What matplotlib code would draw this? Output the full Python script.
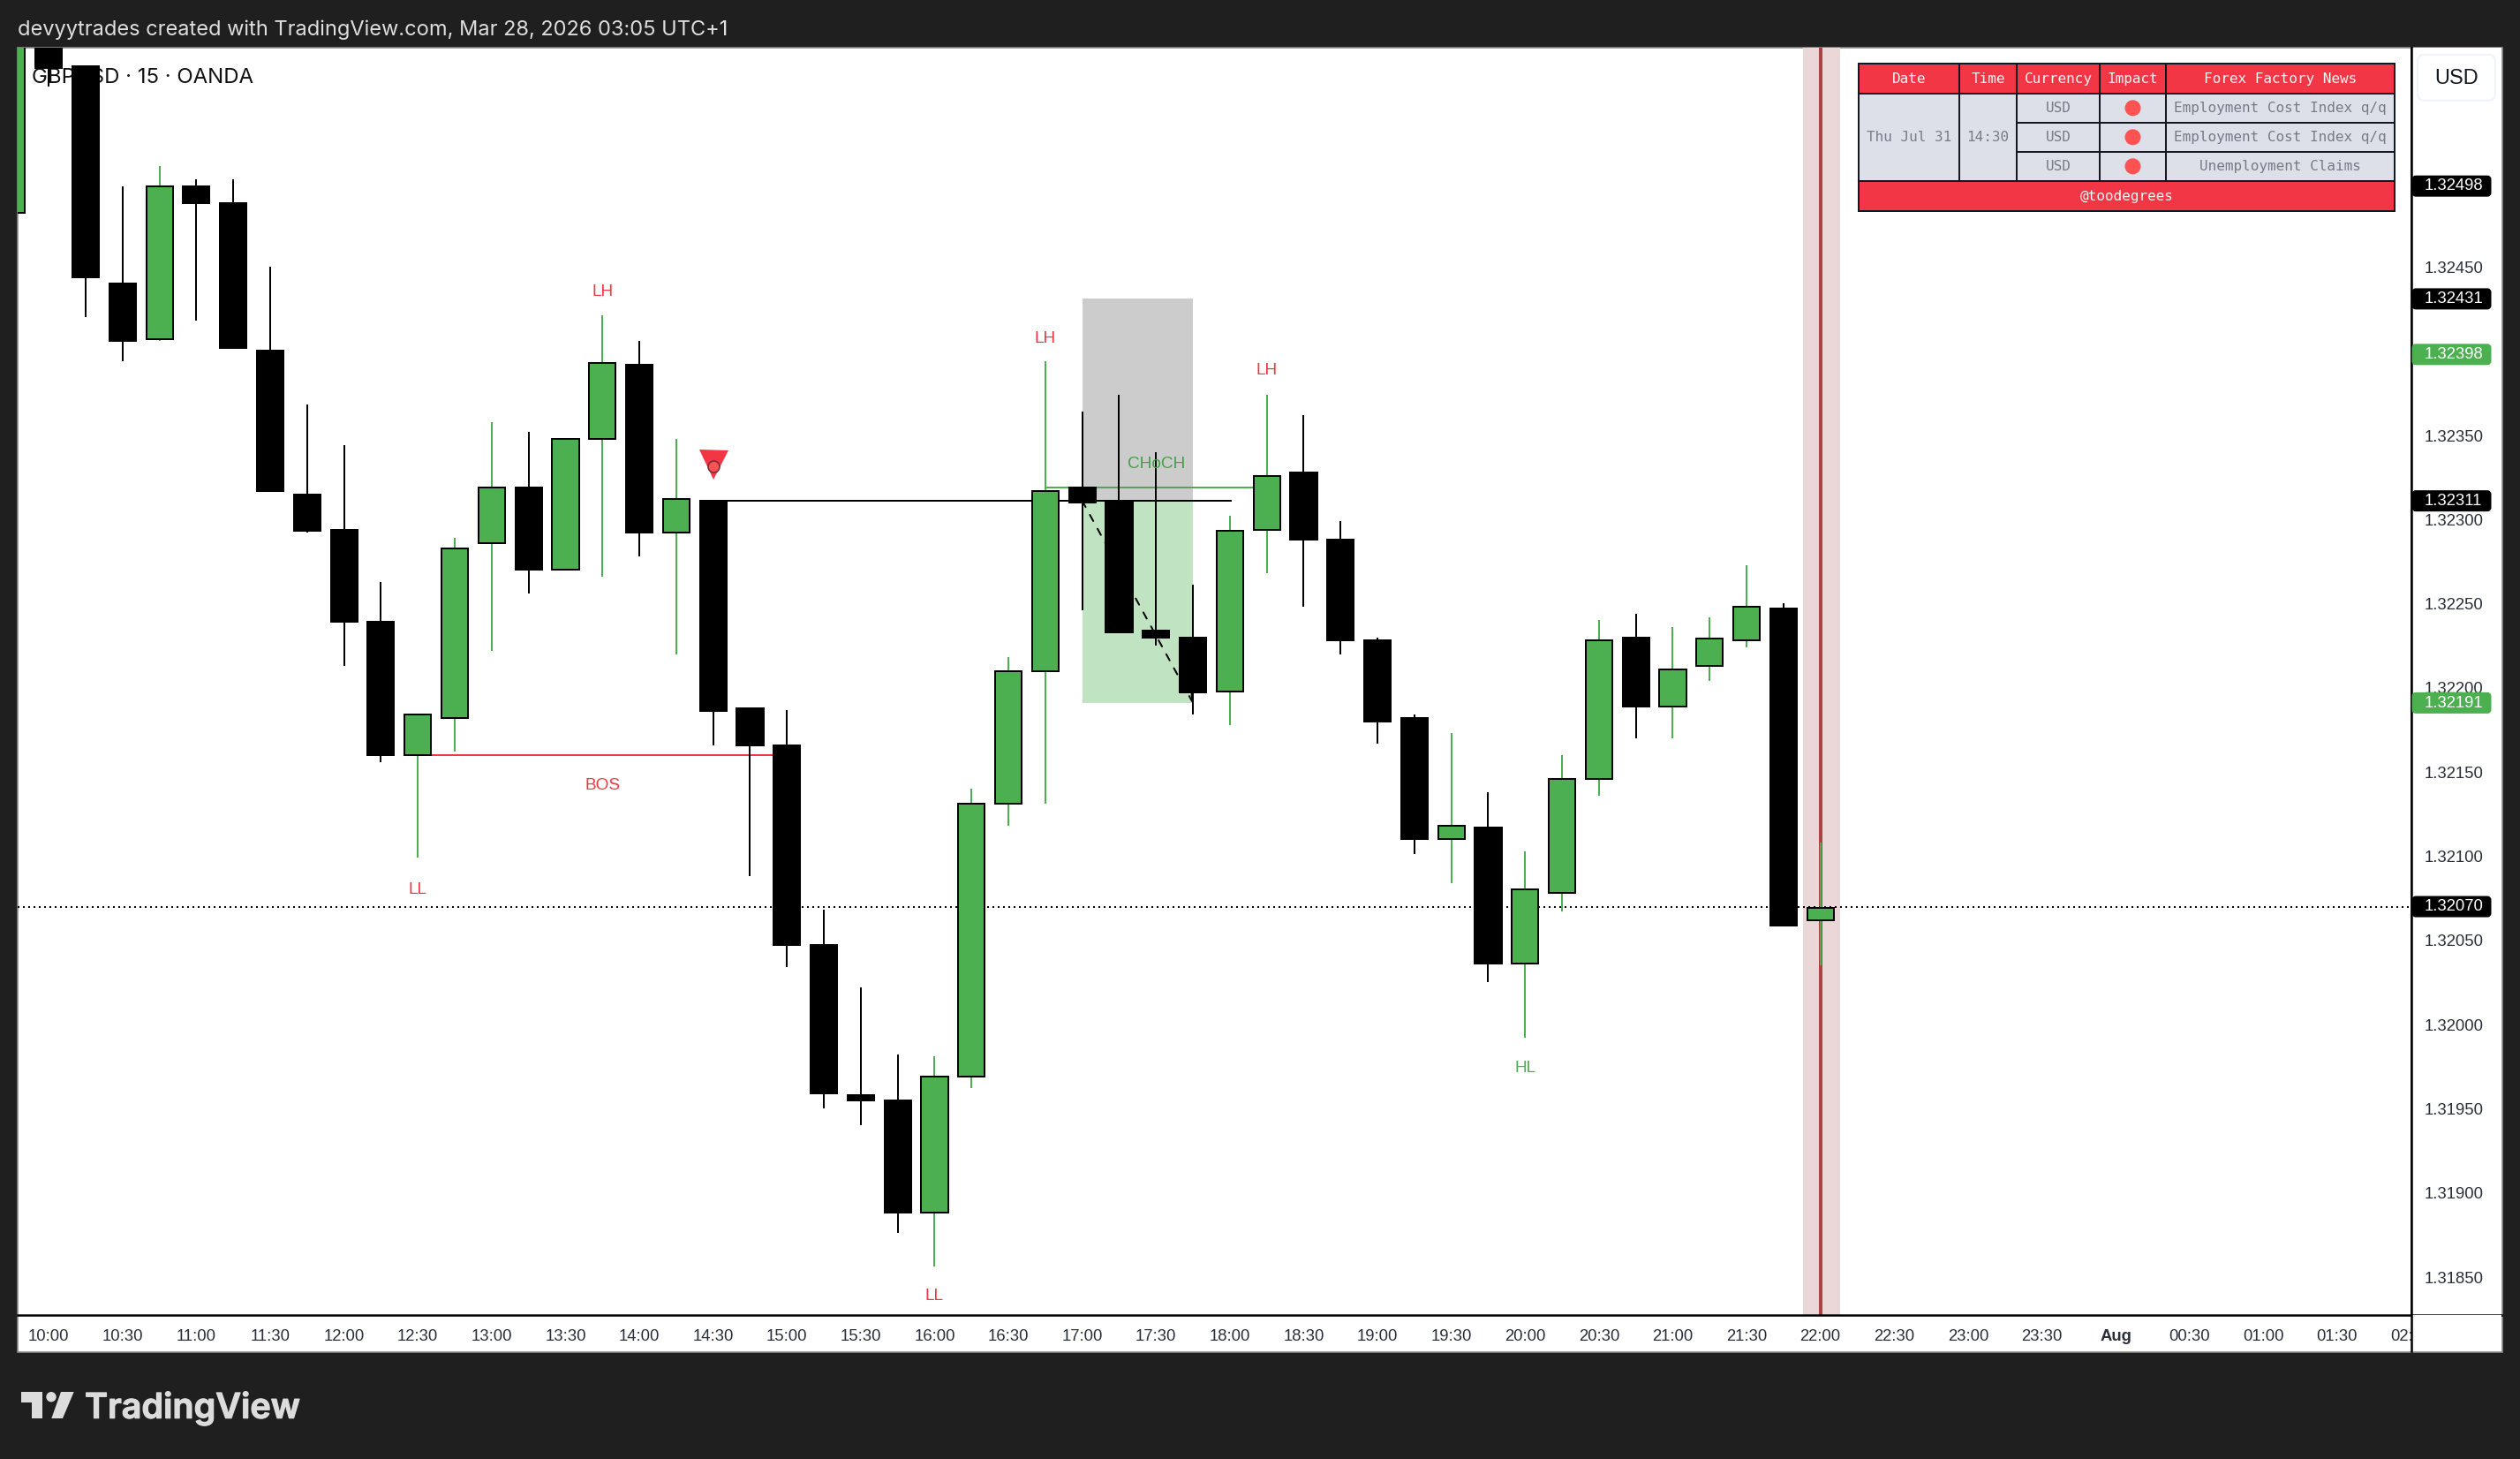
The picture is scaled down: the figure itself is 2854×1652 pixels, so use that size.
import matplotlib
matplotlib.use("Agg")
import matplotlib.pyplot as plt
from matplotlib.patches import Rectangle, FancyBboxPatch, Polygon, Circle
import matplotlib.patheffects as pe
import numpy as np

W, H = 2854, 1652
DPI = 100
BG = "#1f1f1f"
GREEN = "#4caf50"
RED = "#f23645"
SANS = "Liberation Sans"


def pt(px):
    return px * 72.0 / DPI


# candles, prices in 1e-5 units above 1.0
opens = [132482, 132625, 132569, 132440, 132407, 132498, 132488, 132400, 132315, 132294,
         132239, 132160, 132182, 132286, 132319, 132270, 132348, 132392, 132292, 132311,
         132188, 132166, 132047, 131958, 131955, 131888, 131969, 132131, 132210, 132319,
         132311, 132234, 132230, 132198, 132294, 132328, 132288, 132228, 132182, 132110,
         132117, 132036, 132078, 132146, 132230, 132189, 132213, 132228, 132247, 132062]
highs = [132650, 132640, 132569, 132498, 132510, 132502, 132502, 132450, 132368, 132344,
         132263, 132184, 132289, 132358, 132352, 132348, 132421, 132406, 132348, 132311,
         132188, 132187, 132068, 132022, 131982, 131981, 132140, 132218, 132394, 132364,
         132374, 132340, 132261, 132302, 132374, 132362, 132299, 132230, 132184, 132173,
         132138, 132103, 132160, 132240, 132244, 132236, 132242, 132273, 132250, 132108]
lows = [132482, 132557, 132420, 132394, 132406, 132418, 132402, 132317, 132292, 132213,
        132156, 132099, 132162, 132222, 132256, 132270, 132266, 132278, 132220, 132166,
        132088, 132034, 131950, 131940, 131876, 131856, 131962, 132118, 132131, 132246,
        132233, 132225, 132184, 132178, 132268, 132248, 132220, 132167, 132101, 132084,
        132025, 131992, 132067, 132136, 132170, 132170, 132204, 132224, 132058, 132035]
closes = [132640, 132568, 132444, 132406, 132498, 132488, 132402, 132317, 132293, 132239,
          132160, 132184, 132283, 132319, 132270, 132348, 132393, 132292, 132312, 132186,
          132166, 132047, 131959, 131955, 131888, 131969, 132131, 132210, 132317, 132310,
          132233, 132230, 132197, 132293, 132326, 132288, 132228, 132180, 132110, 132118,
          132036, 132080, 132146, 132228, 132189, 132211, 132229, 132248, 132059, 132069]
first_idx = -1

time_ticks = list(range(0, 66, 2))
time_labels = ["10:00", "10:30", "11:00", "11:30", "12:00", "12:30", "13:00", "13:30", "14:00", "14:30",
               "15:00", "15:30", "16:00", "16:30", "17:00", "17:30", "18:00", "18:30", "19:00", "19:30",
               "20:00", "20:30", "21:00", "21:30", "22:00", "22:30", "23:00", "23:30", "Aug", "00:30",
               "01:00", "01:30", "02:00"]
price_ticks = [132500, 132450, 132400, 132350, 132300, 132250, 132200, 132150, 132100, 132050,
               132000, 131950, 131900, 131850]
price_tags = [132498, 132431, 132398, 132311, 132191, 132070]
tag_colors = ["black", "black", GREEN, "black", GREEN, "black"]

swing_labels = ["LH", "LH", "LH", "LL", "LL", "HL", "BOS", "CHoCH"]
swing_x = [15, 27, 33, 10, 24, 40, 15, 30]
swing_y = [132435.5, 132407.5, 132388.5, 132080, 131839, 131974, 132142, 132333]
swing_colors = [RED, RED, RED, RED, RED, GREEN, RED, "#43a047"]

table_head = ["Date", "Time", "Currency", "Impact", "Forex Factory News"]
table_news = ["Employment Cost Index q/q", "Employment Cost Index q/q", "Unemployment Claims"]

fig = plt.figure(figsize=(W / DPI, (H + 0.2) / DPI), dpi=DPI, facecolor=BG)


def px_axes(x0, y0, x1, y1, **kw):
    return fig.add_axes([x0 / W, 1 - y1 / H, (x1 - x0) / W, (y1 - y0) / H], **kw)


# full frame overlay in pixel coordinates, for the window chrome
bgax = px_axes(0, 0, W, H, zorder=0)
bgax.set_xlim(0, W)
bgax.set_ylim(H, 0)
bgax.axis("off")
bgax.add_patch(Rectangle((20, 54), 2814, 1477, fc="white", ec="#8a8a8a", lw=1.2))
bgax.text(20, 34, "devyytrades created with TradingView.com, Mar 28, 2026 03:05 UTC+1",
          color="#dedede", fontsize=pt(23.6), family="Inter", va="center", ha="left")

# logo
lc = "#dcdcdc"
bgax.add_patch(Polygon([(24, 1576), (47.7, 1576), (47.7, 1606), (36, 1606), (36, 1588), (24, 1588)], fc=lc, ec="none"))
bgax.add_patch(Circle((58, 1581.7), 5.7, fc=lc, ec="none"))
bgax.add_patch(Polygon([(69, 1576), (83.7, 1576), (71, 1606), (58.3, 1606)], fc=lc, ec="none"))
bgax.text(96, 1605.7, "TradingView", color=lc, fontsize=pt(39.5), family="Inter", weight="semibold",
          va="baseline", ha="left",
          path_effects=[pe.withStroke(linewidth=pt(1.2), foreground=lc)])

# main chart
ax = px_axes(20, 54, 2730.5, 1489, zorder=1)
ax.patch.set_alpha(0)
ax.set_xlim(-0.843, 63.91)
ax.set_ylim(131827.4, 132580.3)

ax.axvspan(47.53, 48.53, color="#ebd6d8", lw=0, zorder=1)
ax.axvline(48, color="#a94442", lw=pt(4), zorder=1.5)

ax.axhline(132070, color="black", lw=pt(2), ls=(0, (1, 2)), zorder=2)
ax.hlines(132160, 10, 20, color=RED, lw=pt(2), zorder=2)
ax.hlines(132319, 27, 33, color=GREEN, lw=pt(2), zorder=2)

# long position tool
ax.add_patch(Rectangle((28, 132311), 3, 132431 - 132311, fc="gray", alpha=0.4, lw=0, zorder=3))
ax.add_patch(Rectangle((28, 132191), 3, 132311 - 132191, fc=GREEN, alpha=0.35, lw=0, zorder=3))
ax.hlines(132311, 18, 32.05, color="black", lw=pt(2), zorder=3.2)
ax.annotate("", xy=(31, 132191), xytext=(28, 132311), zorder=3.3,
            arrowprops=dict(arrowstyle="->", lw=pt(2), ls=(0, (4, 5)), color="black",
                            mutation_scale=14, shrinkA=0, shrinkB=0))

xs = np.arange(len(opens)) + first_idx
o = np.array(opens, dtype=float)
c = np.array(closes, dtype=float)
up = c >= o
colors = np.where(up, GREEN, "black")
ax.vlines(xs, lows, highs, colors=colors, lw=pt(2), zorder=4)
ax.bar(xs, np.abs(c - o), bottom=np.minimum(o, c), width=0.72, color=colors,
       edgecolor="black", lw=pt(2), zorder=5)

for t, x, y, col in zip(swing_labels, swing_x, swing_y, swing_colors):
    ax.text(x, y, t, color=col, fontsize=pt(19), family=SANS, ha="center", va="center", zorder=6)

ax.annotate("GBPUSD \u00b7 15 \u00b7 OANDA", xy=(36, 88), xycoords=bgax.transData, color="#111111",
            fontsize=pt(24), family="Inter", va="center", ha="left", zorder=3.5)

# signal marker
ax.plot([18], [132332.4], marker="v", ms=pt(33), color=RED, mew=0, zorder=6)
ax.plot([18], [132331.6], marker="o", ms=pt(13), mfc="#ff5252", mec="#7a2b35", mew=pt(1.6), zorder=6.1)

for s in ["top", "left"]:
    ax.spines[s].set_visible(False)
ax.spines["bottom"].set_linewidth(pt(2.5))
ax.spines["right"].set_linewidth(pt(2.5))
ax.set_xticks(time_ticks)
ax.set_xticklabels(time_labels, fontsize=pt(18.5), family=SANS, color="#2a2e39")
ax.tick_params(axis="x", length=0, pad=pt(16))
for lab, txt in zip(ax.get_xticklabels(), time_labels):
    if txt == "Aug":
        lab.set_fontweight("bold")
ax.set_yticks([])

# price scale sits on top so it cuts off the last time label
pax = px_axes(2730.5, 54, 2833, 1489, zorder=2, facecolor="white")
pax.set_xlim(0, 1)
pax.set_ylim(ax.get_ylim())
pax.set_xticks([])
pax.yaxis.tick_left()
pax.set_yticks(price_ticks)
pax.set_yticklabels(["%.5f" % (v / 1e5) for v in price_ticks], fontsize=pt(18.5), family=SANS,
                    color="#2a2e39", ha="left")
pax.tick_params(axis="y", length=0, pad=-pt(15))
for s in pax.spines.values():
    s.set_visible(False)
pax.spines["left"].set_visible(True)
pax.spines["left"].set_linewidth(pt(2.5))
pax.spines["bottom"].set_visible(True)
pax.spines["bottom"].set_linewidth(pt(2.5))

# strip under the price scale
sax = px_axes(2730.5, 1489, 2833, 1530, zorder=2, facecolor="white")
sax.set_xticks([])
sax.set_yticks([])
for s in sax.spines.values():
    s.set_visible(False)
sax.spines["left"].set_visible(True)
sax.spines["left"].set_linewidth(pt(2.5))

# overlay for tags, table
top = px_axes(0, 0, W, H, zorder=3)
top.patch.set_alpha(0)
top.set_xlim(0, W)
top.set_ylim(H, 0)
top.axis("off")

fig.canvas.draw()
to_px = pax.transData + top.transData.inverted()
for v, col in zip(price_tags, tag_colors):
    yp = to_px.transform((0, v))[1]
    top.add_patch(FancyBboxPatch((2733, yp - 10.5), 87, 21, boxstyle="round,pad=0,rounding_size=3",
                                 fc=col, ec=col, lw=pt(3)))
    top.text(2746, yp, "%.5f" % (v / 1e5), color="white", fontsize=pt(18.5), family=SANS,
             va="center", ha="left")

top.add_patch(FancyBboxPatch((2738, 62), 88, 52, boxstyle="round,pad=0,rounding_size=8",
                             fc="white", ec="#f0f3fa", lw=pt(2)))
top.text(2782, 88, "USD", color="#131722", fontsize=pt(23.5), family=SANS, va="center", ha="center")

# news table
col_x = [2105, 2219, 2284, 2378, 2453, 2712]
row_y = [72, 106, 139, 172, 205, 239]
CELL = "#dee0e9"
TXT = "#787b86"
LINE = "#131722"
TABLE_FONT = "DejaVu Sans Mono"
fs_t = pt(16)


def cell(x0, y0, x1, y1, fc):
    top.add_patch(Rectangle((x0, y0), x1 - x0, y1 - y0, fc=fc, ec=LINE, lw=pt(2)))


for i, h in enumerate(table_head):
    cell(col_x[i], row_y[0], col_x[i + 1], row_y[1], RED)
    top.text((col_x[i] + col_x[i + 1]) / 2, (row_y[0] + row_y[1]) / 2, h, color="#f5f5f5", fontsize=fs_t,
             family=TABLE_FONT, ha="center", va="center")
cell(col_x[0], row_y[1], col_x[1], row_y[4], CELL)
cell(col_x[1], row_y[1], col_x[2], row_y[4], CELL)
top.text((col_x[0] + col_x[1]) / 2, (row_y[1] + row_y[4]) / 2, "Thu Jul 31", color=TXT, fontsize=fs_t,
         family=TABLE_FONT, ha="center", va="center")
top.text((col_x[1] + col_x[2]) / 2, (row_y[1] + row_y[4]) / 2, "14:30", color=TXT, fontsize=fs_t,
         family=TABLE_FONT, ha="center", va="center")
for r, news in enumerate(table_news):
    y0, y1 = row_y[r + 1], row_y[r + 2]
    cell(col_x[2], y0, col_x[3], y1, CELL)
    cell(col_x[3], y0, col_x[4], y1, CELL)
    cell(col_x[4], y0, col_x[5], y1, CELL)
    ym = (y0 + y1) / 2
    top.text((col_x[2] + col_x[3]) / 2, ym, "USD", color=TXT, fontsize=fs_t, family=TABLE_FONT,
             ha="center", va="center")
    top.add_patch(Circle(((col_x[3] + col_x[4]) / 2, ym), 9, fc="#ff5252", ec="none"))
    top.text((col_x[4] + col_x[5]) / 2, ym, news, color=TXT, fontsize=fs_t, family=TABLE_FONT,
             ha="center", va="center")
cell(col_x[0], row_y[4], col_x[5], row_y[5], RED)
top.text((col_x[0] + col_x[5]) / 2, (row_y[4] + row_y[5]) / 2, "@toodegrees", color="#f5f5f5", fontsize=fs_t,
         family=TABLE_FONT, ha="center", va="center")

fig.savefig("out.png", dpi=DPI, facecolor=BG)
